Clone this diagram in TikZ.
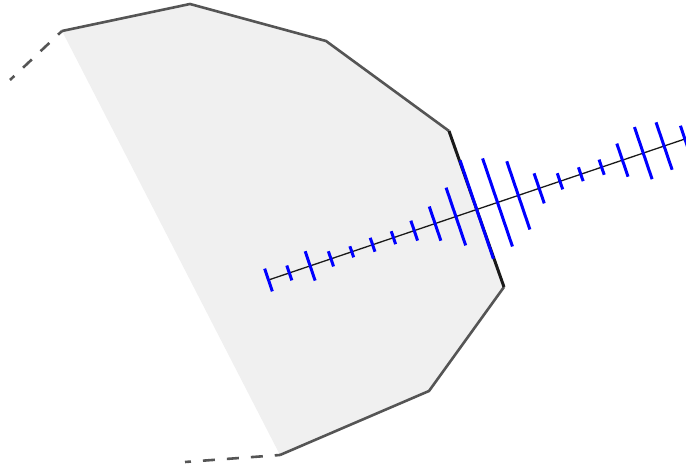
\documentclass[tikz,border=0pt]{standalone}
\usetikzlibrary{calc}
\definecolor{polyfillc}{HTML}{F0F0F0}
\definecolor{edgegray}{HTML}{555555}
\definecolor{edgeblack}{HTML}{1A1A1A}
\definecolor{tickblue}{HTML}{0000FF}
\begin{document}
\begin{tikzpicture}[x=1pt,y=-1pt,
  polyfill/.style={fill=polyfillc},
  grayedge/.style={draw=edgegray, line width=2.6pt, line join=round},
  darkedge/.style={draw=edgeblack, line width=3pt},
  dashededge/.style={draw=edgegray, line width=2.6pt, dash pattern=on 12pt off 12pt, dash phase=6pt},
  normalline/.style={draw=edgeblack, line width=1.3pt},
  tickmark/.style={draw=tickblue, line width=3pt}]
\useasboundingbox (0,0) rectangle (686,470);
\clip (0,0) rectangle (686,470);
\coordinate (A) at (62,31);
\coordinate (B) at (190,4);
\coordinate (C) at (326,41);
\coordinate (D) at (449,131);
\coordinate (E) at (504,287);
\coordinate (F) at (429,391);
\coordinate (G) at (280,455);
\coordinate (Aout) at (10,80);
\coordinate (Gout) at (185,462);
\fill[polyfill] (A) -- (B) -- (C) -- (D) -- (E) -- (F) -- (G) -- cycle;
\draw[grayedge] (A) -- (B) -- (C) -- (D);
\draw[grayedge] (E) -- (F) -- (G);
\draw[darkedge] (D) -- (E);
\draw[dashededge] (Aout) -- (A);
\draw[dashededge] (Gout) -- (G);
\coordinate (P0) at (268.5,280);
\coordinate (P1) at ($(P0)+21*(20.82,-7.05)$);
\draw[normalline] (P0) -- (P1);
\foreach \i/\l in {0/24,1/15.7,2/31,3/16,4/11.7,5/14.7,6/13.7,7/21,8/36,9/61,10/104,11/93,12/72,13/31.7,14/17,15/14.6,16/16,17/35,18/55,19/50,20/28} {
  \draw[tickmark] ($(P0)+\i*(20.82,-7.05)$) ++(-\l*0.16045,-\l*0.47355) -- ++(\l*0.3209,\l*0.9471);
}
\end{tikzpicture}
\end{document}
